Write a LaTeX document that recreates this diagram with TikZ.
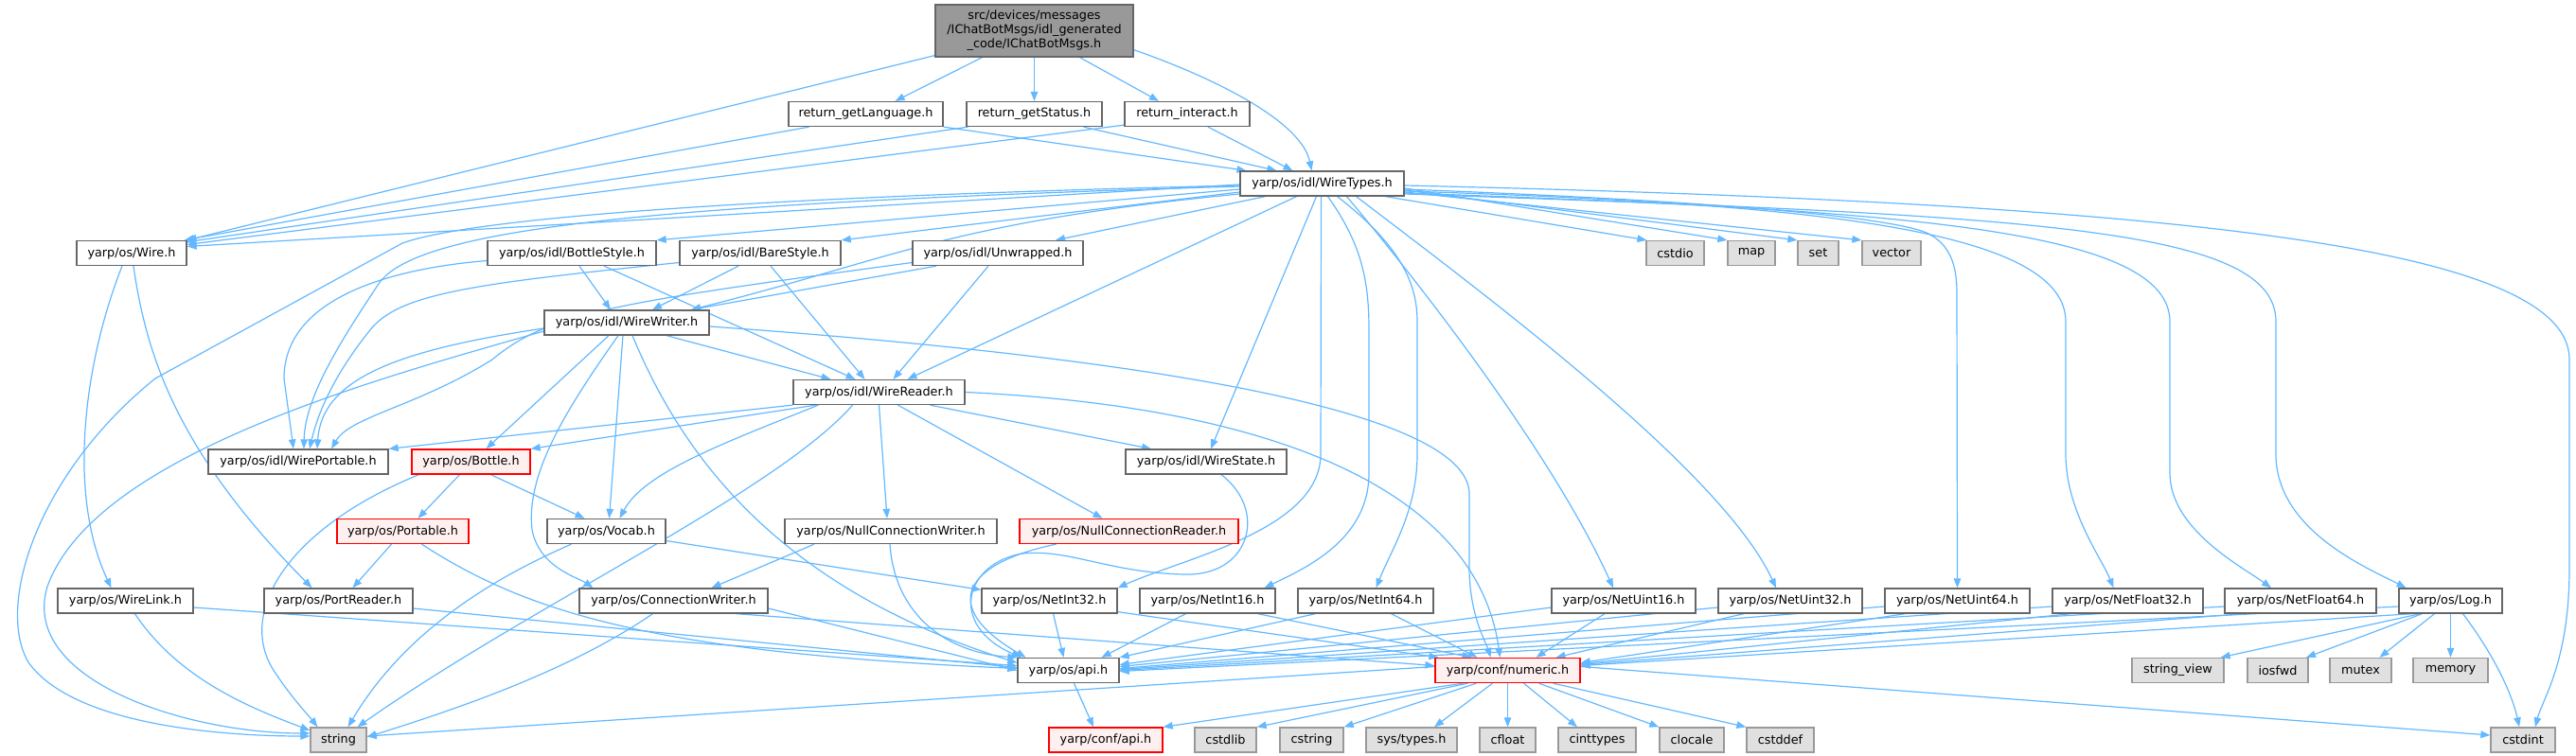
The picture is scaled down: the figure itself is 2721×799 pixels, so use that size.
\documentclass[tikz,border=0pt]{standalone}
\usepackage{fontspec}
\setmainfont{DejaVu Sans}
\usetikzlibrary{arrows.meta}
\pgfdeclarelayer{background}
\pgfsetlayers{background,main}
\definecolor{edgec}{HTML}{63B8FF}
\definecolor{bordc}{HTML}{666666}
\definecolor{sysfill}{HTML}{E0E0E0}
\definecolor{sysbord}{HTML}{999999}
\definecolor{redfill}{HTML}{FFF0F0}
\definecolor{mainfill}{HTML}{999999}
\tikzset{
  box/.style={draw=bordc, fill=white, line width=1.3pt, inner sep=0pt, minimum height=26pt,
    font=\fontsize{12.8}{15}\selectfont, text=black},
  sysbox/.style={box, draw=sysbord, fill=sysfill},
  redbox/.style={box, draw=red, fill=redfill},
  mainbox/.style={box, fill=mainfill, minimum height=55pt, align=center},
  e/.style={draw=edgec, line width=1.2pt, -{Triangle[length=10pt,width=7.5pt]}},
}
\begin{document}
\begin{tikzpicture}[x=1pt,y=-1pt]
\useasboundingbox (0,0) rectangle (2721,799);
% rank 0-2
\node[mainbox, minimum width=209pt] (main) at (1092.5,32.5) {src/devices/messages\\/IChatBotMsgs/idl\_generated\\\_code/IChatBotMsgs.h};
\node[box, minimum width=163pt] (glang) at (914.5,120.5) {return\_getLanguage.h};
\node[box, minimum width=143pt] (gstat) at (1092.5,120.5) {return\_getStatus.h};
\node[box, minimum width=132pt] (inter) at (1254,120.5) {return\_interact.h};
\node[box, minimum width=173pt] (wtypes) at (1396.5,194) {yarp/os/idl/WireTypes.h};
% rank 3
\node[box, minimum width=116pt] (wire) at (139,267.5) {yarp/os/Wire.h};
\node[box, minimum width=178pt] (bottlest) at (604,267.5) {yarp/os/idl/BottleStyle.h};
\node[box, minimum width=170pt] (barest) at (803,267.5) {yarp/os/idl/BareStyle.h};
\node[box, minimum width=180pt] (unwr) at (1054,267.5) {yarp/os/idl/Unwrapped.h};
\node[sysbox, minimum width=61pt] (cstdio) at (1769.5,267.5) {cstdio};
\node[sysbox, minimum width=50pt] (map) at (1850,267.5) {map};
\node[sysbox, minimum width=43pt] (set) at (1920.5,267.5) {set};
\node[sysbox, minimum width=62pt] (vector) at (1998,267.5) {vector};
% rank 4-5
\node[box, minimum width=174pt] (wwriter) at (662,341) {yarp/os/idl/WireWriter.h};
\node[box, minimum width=181pt] (wreader) at (928.5,414.5) {yarp/os/idl/WireReader.h};
% rank 6
\node[box, minimum width=190pt] (wport) at (315,488) {yarp/os/idl/WirePortable.h};
\node[redbox, minimum width=125pt] (bottle) at (497.5,488) {yarp/os/Bottle.h};
\node[box, minimum width=170pt] (wstate) at (1274,488) {yarp/os/idl/WireState.h};
% rank 7
\node[redbox, minimum width=139pt] (portable) at (425.5,561.5) {yarp/os/Portable.h};
\node[box, minimum width=125pt] (vocab) at (640.5,561.5) {yarp/os/Vocab.h};
\node[box, minimum width=224pt] (ncw) at (941,561.5) {yarp/os/NullConnectionWriter.h};
\node[redbox, minimum width=231pt] (ncr) at (1192.5,561.5) {yarp/os/NullConnectionReader.h};
% rank 8
\node[box, minimum width=143pt] (wlink) at (132.5,635) {yarp/os/WireLink.h};
\node[box, minimum width=157pt] (preader) at (357.5,635) {yarp/os/PortReader.h};
\node[box, minimum width=199pt] (cwriter) at (711.5,635) {yarp/os/ConnectionWriter.h};
\node[box, minimum width=143pt] (ni32) at (1108.5,635) {yarp/os/NetInt32.h};
\node[box, minimum width=143pt] (ni16) at (1275.5,635) {yarp/os/NetInt16.h};
\node[box, minimum width=143pt] (ni64) at (1442.5,635) {yarp/os/NetInt64.h};
\node[box, minimum width=152pt] (nu16) at (1715,635) {yarp/os/NetUint16.h};
\node[box, minimum width=152pt] (nu32) at (1891,635) {yarp/os/NetUint32.h};
\node[box, minimum width=153pt] (nu64) at (2067.5,635) {yarp/os/NetUint64.h};
\node[box, minimum width=159pt] (nf32) at (2247.5,635) {yarp/os/NetFloat32.h};
\node[box, minimum width=160pt] (nf64) at (2430,635) {yarp/os/NetFloat64.h};
\node[box, minimum width=109pt] (log) at (2588.5,635) {yarp/os/Log.h};
% rank 9
\node[box, minimum width=107pt] (api) at (1128.5,708.5) {yarp/os/api.h};
\node[redbox, minimum width=153pt] (numeric) at (1592.5,708.5) {yarp/conf/numeric.h};
\node[sysbox, minimum width=97pt] (sview) at (2300.5,708.5) {string\_view};
\node[sysbox, minimum width=64pt] (iosfwd) at (2406,708.5) {iosfwd};
\node[sysbox, minimum width=65pt] (mutex) at (2493.5,708.5) {mutex};
\node[sysbox, minimum width=79pt] (memory) at (2588.5,708.5) {memory};
% rank 10
\node[sysbox, minimum width=59pt] (string) at (357.5,782) {string};
\node[redbox, minimum width=120pt] (confapi) at (1168,782) {yarp/conf/api.h};
\node[sysbox, minimum width=65pt] (cstdlib) at (1294.5,782) {cstdlib};
\node[sysbox, minimum width=67pt] (cstring) at (1385.5,782) {cstring};
\node[sysbox, minimum width=96pt] (systypes) at (1491,782) {sys/types.h};
\node[sysbox, minimum width=59pt] (cfloat) at (1592.5,782) {cfloat};
\node[sysbox, minimum width=82pt] (cinttypes) at (1687,782) {cinttypes};
\node[sysbox, minimum width=68pt] (clocale) at (1787,782) {clocale};
\node[sysbox, minimum width=71pt] (cstddef) at (1880.5,782) {cstddef};
\node[sysbox, minimum width=68pt] (cstdint) at (2665,782) {cstdint};

\begin{pgfonlayer}{background}
% main
\draw[e] ([yshift=2pt]main.south west) -- (wire.north east);
\draw[e] ([xshift=-55pt]main.south) -- ([xshift=31pt]glang.north);
\draw[e] (main.south) -- (gstat.north);
\draw[e] ([xshift=48pt]main.south) -- ([xshift=-30pt]inter.north);
\draw[e] ([yshift=8pt]main.south east) .. controls (1290,85) and (1375,130) .. ([xshift=-11pt]wtypes.north);
% return_*
\draw[e] ([xshift=-60pt]glang.south) -- ([xshift=-3pt]wire.north east);
\draw[e] (glang.south east) -- ([xshift=-80pt]wtypes.north);
\draw[e] ([xshift=-70pt]gstat.south) -- ([xshift=-1pt,yshift=-2pt]wire.north east);
\draw[e] ([xshift=52pt]gstat.south) -- ([xshift=-48pt]wtypes.north);
\draw[e] ([yshift=2pt]inter.south west) -- ([yshift=9pt]wire.east);
\draw[e] ([xshift=22pt]inter.south) -- ([xshift=-31pt]wtypes.north);
% WireTypes
\draw[e] ([yshift=-1pt]wtypes.west) -- ([yshift=7pt]wire.east);
\draw[e] ([yshift=-6pt]wtypes.west) -- (bottlest.north east);
\draw[e] ([yshift=-9pt]wtypes.west) -- (barest.north east);
\draw[e] ([xshift=-60pt]wtypes.south) -- ([xshift=61pt]unwr.north);
\draw[e] ([yshift=-11pt]wtypes.west) .. controls (1000,235) and (940,275) .. ([xshift=68pt]wwriter.north);
\draw[e] ([xshift=-27pt]wtypes.south) -- ([xshift=30pt]wreader.north);
\draw[e] ([yshift=-3pt]wtypes.west) .. controls (700,215) and (440,240) .. (400,300) .. controls (360,360) and (322,420) .. ([xshift=6pt]wport.north);
\draw[e] ([yshift=-2pt]wtypes.west) .. controls (800,208) and (500,230) .. (425,257) -- (164,400) .. controls (40,500) and (-5,640) .. (30,700) .. controls (80,770) and (250,778) .. ([yshift=4pt]string.west);
\draw[e] ([xshift=-6pt]wtypes.south) -- ([xshift=5pt]wstate.north);
\draw[e] ([xshift=-1pt]wtypes.south) -- (1395,480) .. controls (1395,560) and (1250,590) .. (ni32.north east);
\draw[e] ([xshift=6pt]wtypes.south) .. controls (1440,260) and (1446,300) .. (1446,350) -- (1446,500) .. controls (1446,570) and (1380,600) .. ([xshift=60pt]ni16.north);
\draw[e] ([xshift=16pt]wtypes.south) .. controls (1480,260) and (1497,300) .. (1497,340) -- (1497,480) .. controls (1497,540) and (1470,580) .. ([xshift=11pt]ni64.north);
\draw[e] ([xshift=26pt]wtypes.south) .. controls (1500,300) and (1640,480) .. ([xshift=-11pt]nu16.north);
\draw[e] ([xshift=36pt]wtypes.south) .. controls (1580,320) and (1820,500) .. ([xshift=-15pt]nu32.north);
\draw[e] ([xshift=67pt]wtypes.south) -- ([xshift=-30pt]cstdio.north);
\draw[e] ([yshift=-5pt]wtypes.east) -- (map.north west);
\draw[e] ([yshift=-7pt]wtypes.east) -- (set.north west);
\draw[e] ([yshift=-9pt]wtypes.east) -- (vector.north west);
\draw[e] ([yshift=-6pt]wtypes.east) .. controls (1800,212) and (1990,228) .. (2035,246) .. controls (2060,258) and (2067,280) .. (2067,310) -- (nu64.north);
\draw[e] ([yshift=-8pt]wtypes.east) .. controls (1900,215) and (2182,240) .. (2182,340) -- (2182,480) .. controls (2182,540) and (2220,590) .. ([xshift=-15pt]nf32.north);
\draw[e] ([yshift=-10pt]wtypes.east) .. controls (2000,222) and (2292,240) .. (2292,340) -- (2292,500) .. controls (2292,560) and (2370,600) .. ([xshift=-31pt]nf64.north);
\draw[e] ([yshift=-11pt]wtypes.east) .. controls (2150,228) and (2404,240) .. (2404,340) -- (2404,480) .. controls (2404,560) and (2500,600) .. ([xshift=-47pt]log.north);
\draw[e] ([yshift=-2pt]wtypes.east) .. controls (2300,215) and (2714,260) .. (2714,380) -- (2714,600) .. controls (2714,700) and (2685,740) .. ([xshift=13pt]cstdint.north);
% Wire
\draw[e] ([xshift=-10pt]wire.south) .. controls (90,380) and (70,520) .. ([xshift=-15pt]wlink.north);
\draw[e] ([xshift=2pt]wire.south) .. controls (155,380) and (190,480) .. ([xshift=-28pt]preader.north);
% BottleStyle
\draw[e] ([yshift=-8pt]bottlest.west) .. controls (400,285) and (300,320) .. (300,400) -- ([xshift=-5pt]wport.north);
\draw[e] ([xshift=8pt]bottlest.south) -- ([xshift=-17pt]wwriter.north);
\draw[e] ([xshift=34pt]bottlest.south) -- ([xshift=-25pt]wreader.north);
% BareStyle
\draw[e] ([yshift=-10pt]barest.west) .. controls (500,300) and (420,310) .. (390,350) .. controls (350,400) and (335,440) .. ([xshift=12pt]wport.north);
\draw[e] ([xshift=-23pt]barest.south) -- ([xshift=27pt]wwriter.north);
\draw[e] ([xshift=11pt]barest.south) -- ([xshift=-15pt]wreader.north);
% Unwrapped
\draw[e] ([yshift=-10pt]unwr.west) .. controls (650,320) and (580,330) .. (520,380) .. controls (440,430) and (370,440) .. ([xshift=35pt]wport.north);
\draw[e] ([xshift=-65pt]unwr.south) -- ([xshift=68pt]wwriter.north);
\draw[e] ([xshift=-10pt]unwr.south) -- ([xshift=15pt]wreader.north);
% WireWriter
\draw[e] ([yshift=-6pt]wwriter.west) .. controls (420,370) and (340,400) .. ([xshift=20pt]wport.north);
\draw[e] ([yshift=-9pt]wwriter.west) .. controls (400,400) and (100,480) .. (50,620) .. controls (20,720) and (200,775) .. ([yshift=7pt]string.west);
\draw[e] ([xshift=-19pt]wwriter.south) -- ([xshift=16pt]bottle.north);
\draw[e] ([xshift=-9pt]wwriter.south) .. controls (600,430) and (555,500) .. (562,560) .. controls (570,600) and (610,610) .. ([xshift=-85pt]cwriter.north);
\draw[e] ([xshift=-4pt]wwriter.south) -- ([xshift=3pt]vocab.north);
\draw[e] ([xshift=6pt]wwriter.south) .. controls (720,480) and (820,620) .. ([yshift=8pt]api.west);
\draw[e] ([xshift=42pt]wwriter.south) -- ([xshift=-51pt]wreader.north);
\draw[e] ([yshift=-4pt]wwriter.east) .. controls (1100,370) and (1545,420) .. (1552,520) -- (1552,600) .. controls (1552,650) and (1570,680) .. ([xshift=-18pt]numeric.north);
% WireReader
\draw[e] (wreader.south west) -- (wport.north east);
\draw[e] ([xshift=-67pt]wreader.south) -- (bottle.north east);
\draw[e] ([xshift=-64pt]wreader.south) .. controls (760,470) and (680,500) .. ([xshift=14pt]vocab.north);
\draw[e] ([xshift=-28pt]wreader.south) .. controls (820,520) and (560,640) .. ([xshift=20pt]string.north);
\draw[e] (wreader.south) -- ([xshift=-4pt]ncw.north);
\draw[e] ([xshift=20pt]wreader.south) -- ([xshift=-28pt]ncr.north);
\draw[e] ([xshift=54pt]wreader.south) -- ([xshift=-58pt]wstate.north);
\draw[e] (wreader.east) .. controls (1350,430) and (1560,520) .. ([xshift=-8pt]numeric.north);
% Bottle
\draw[e] ([xshift=-12pt]bottle.south) -- ([xshift=16pt]portable.north);
\draw[e] ([xshift=21pt]bottle.south) -- ([xshift=-23pt]vocab.north);
\draw[e] ([xshift=-55pt]bottle.south) .. controls (300,560) and (250,650) .. (290,710) .. controls (310,740) and (325,755) .. ([xshift=-22pt]string.north);
% Portable
\draw[e] ([xshift=-12pt]portable.south) -- ([xshift=15pt]preader.north);
\draw[e] ([xshift=20pt]portable.south) .. controls (560,650) and (700,690) .. ([yshift=2pt]api.west);
% Vocab
\draw[e] ([xshift=-37pt]vocab.south) .. controls (500,620) and (420,680) .. ([xshift=10pt]string.north);
\draw[e] ([yshift=-10pt]vocab.east) -- ([yshift=-2pt]ni32.north west);
% NullConnectionWriter / Reader
\draw[e] ([xshift=-81pt]ncw.south) -- ([xshift=40pt]cwriter.north);
\draw[e] ([xshift=-1pt]ncw.south) .. controls (945,650) and (1000,690) .. (api.north west);
\draw[e] ([xshift=-77pt]ncr.south) .. controls (1020,595) and (990,640) .. ([xshift=-45pt]api.north);
% WireState
\draw[e] ([xshift=16pt]wstate.south) .. controls (1340,540) and (1320,610) .. (1250,607) .. controls (1170,605) and (1130,580) .. (1080,585) .. controls (1020,595) and (1000,660) .. ([xshift=-50pt]api.north);
% WireLink, PortReader, ConnectionWriter
\draw[e] ([xshift=10pt]wlink.south) .. controls (190,720) and (270,750) .. ([yshift=10pt]string.west);
\draw[e] ([yshift=-7pt]wlink.east) -- ([yshift=5pt]api.west);
\draw[e] ([yshift=-8pt]preader.east) -- ([yshift=3pt]api.west);
\draw[e] ([xshift=-22pt]cwriter.south) .. controls (600,710) and (480,750) .. ([yshift=3pt]string.east);
\draw[e] ([yshift=-8pt]cwriter.east) -- (api.west);
\draw[e] ([xshift=66pt]cwriter.south) -- ([yshift=5pt]numeric.west);
% Net*
\draw[e] ([xshift=4pt]ni32.south) -- ([xshift=-5pt]api.north);
\draw[e] ([yshift=2pt]ni32.south east) -- ([xshift=4pt]numeric.north west);
\draw[e] ([xshift=-23pt]ni16.south) -- ([xshift=35pt]api.north);
\draw[e] ([xshift=53pt]ni16.south) -- ([xshift=-38pt]numeric.north);
\draw[e] ([xshift=-53pt]ni64.south) -- (api.north east);
\draw[e] ([xshift=27pt]ni64.south) -- ([xshift=-32pt]numeric.north);
\draw[e] ([yshift=-7pt]nu16.west) -- ([yshift=6pt]api.east);
\draw[e] ([xshift=-20pt]nu16.south) -- ([xshift=30pt]numeric.north);
\draw[e] ([yshift=-7pt]nu32.west) -- ([yshift=4pt]api.east);
\draw[e] ([xshift=-49pt]nu32.south) -- ([xshift=51pt]numeric.north);
\draw[e] ([yshift=-6pt]nu64.west) -- ([yshift=2pt]api.east);
\draw[e] ([xshift=-55pt]nu64.south) -- ([yshift=8pt]numeric.east);
\draw[e] ([yshift=-6pt]nf32.west) -- ([yshift=1pt]api.east);
\draw[e] ([xshift=-60pt]nf32.south) -- ([yshift=7pt]numeric.east);
\draw[e] ([yshift=-6pt]nf64.west) -- (api.east);
\draw[e] ([xshift=-60pt]nf64.south) -- ([yshift=6pt]numeric.east);
% Log
\draw[e] ([yshift=-6pt]log.west) -- ([yshift=-1pt]api.east);
\draw[e] ([xshift=-40pt]log.south) -- ([yshift=5pt]numeric.east);
\draw[e] ([xshift=-32pt]log.south) -- ([xshift=-4pt]sview.north east);
\draw[e] ([xshift=-30pt]log.south) -- ([xshift=30pt]iosfwd.north);
\draw[e] ([xshift=-17pt]log.south) -- ([xshift=20pt]mutex.north);
\draw[e] (log.south) -- (memory.north);
\draw[e] ([xshift=13pt]log.south) .. controls (2640,700) and (2655,740) .. ([xshift=-4pt]cstdint.north);
% api
\draw[e] ([xshift=6pt]api.south) -- ([xshift=-13pt]confapi.north);
% numeric
\draw[e] ([yshift=4pt]numeric.west) -- ([yshift=4pt]string.east);
\draw[e] ([xshift=-47pt]numeric.south) -- (confapi.north east);
\draw[e] ([xshift=-42pt]numeric.south) -- (cstdlib.north east);
\draw[e] ([xshift=-33pt]numeric.south) -- (cstring.north east);
\draw[e] ([xshift=-16pt]numeric.south) -- ([xshift=24pt]systypes.north);
\draw[e] (numeric.south) -- (cfloat.north);
\draw[e] ([xshift=17pt]numeric.south) -- ([xshift=-21pt]cinttypes.north);
\draw[e] ([xshift=33pt]numeric.south) -- (clocale.north west);
\draw[e] ([xshift=48pt]numeric.south) -- (cstddef.north west);
\draw[e] ([yshift=4pt]numeric.east) -- ([yshift=5pt]cstdint.west);
\end{pgfonlayer}
\end{tikzpicture}
\end{document}
